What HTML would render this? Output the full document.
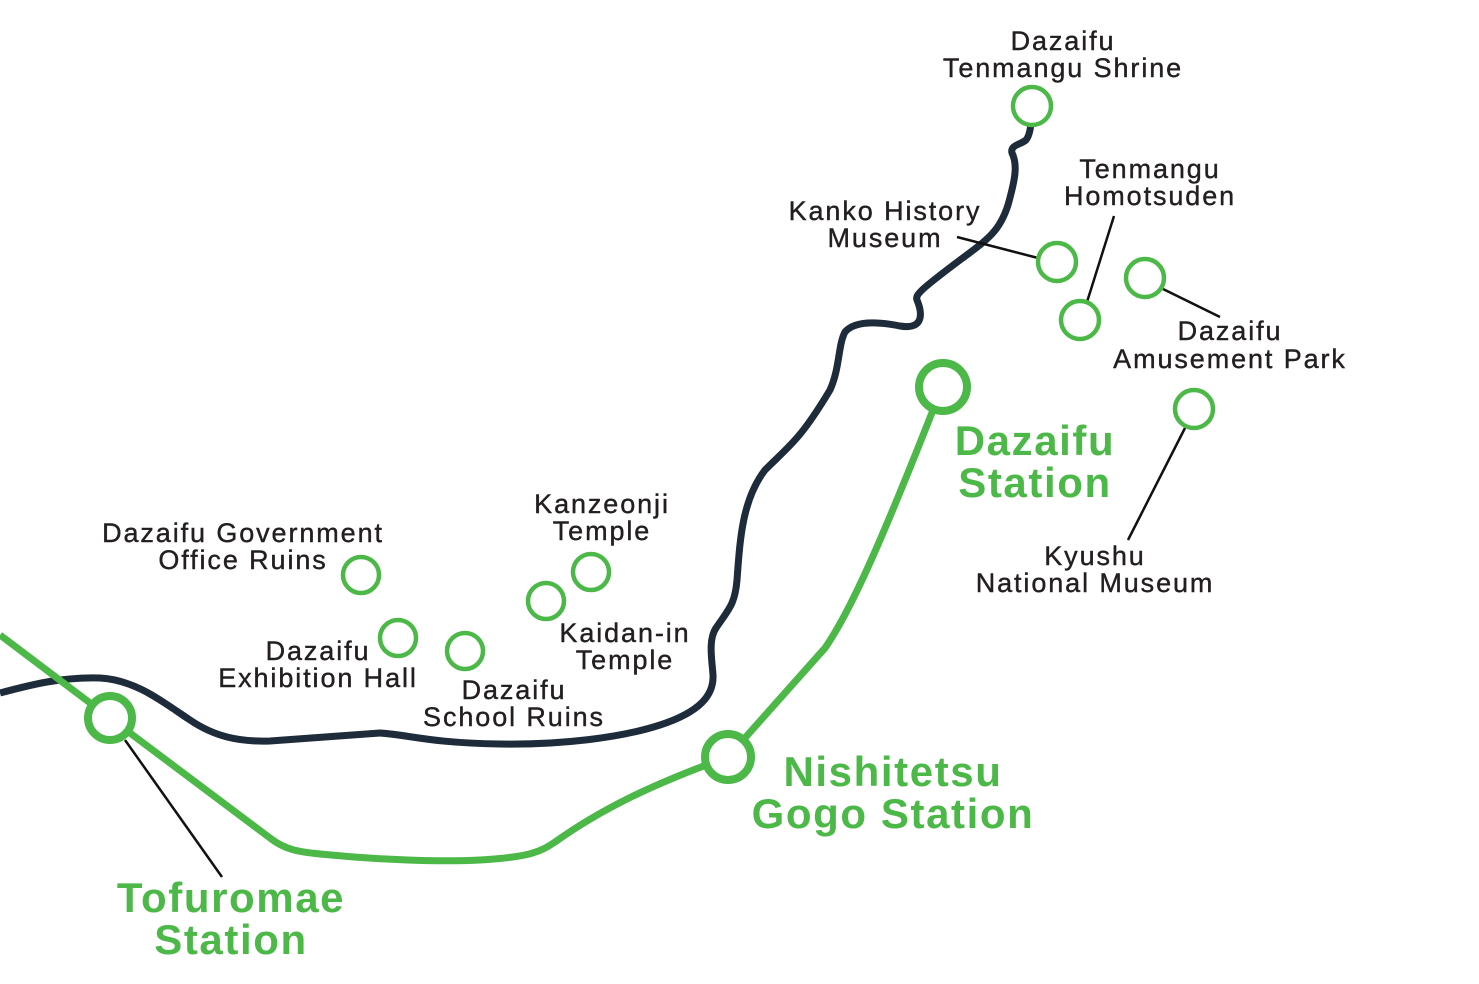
<!DOCTYPE html>
<html><head><meta charset="utf-8"><style>
html,body{margin:0;padding:0;background:#fff;}
svg{display:block}
text{font-family:"Liberation Sans",sans-serif;}
.l{font-size:27px;font-weight:500;fill:#231f20;text-anchor:middle;letter-spacing:1.9px;stroke:#231f20;stroke-width:0.4px}
.s{font-size:42px;font-weight:bold;fill:#4cb848;text-anchor:middle;letter-spacing:1.6px}
</style></head><body>
<svg width="1479" height="984" viewBox="0 0 1479 984">
<path d="M0,693 C30,685 60,677 100,678 C135,680 160,700 190,720 C215,737 240,742 270,741 L380,733 C410,735 430,743 500,744 C560,745 620,738 660,725 C700,712 714,695 713,675 C712,660 708,640 716,628 C728,610 735,605 737,580 C740,540 742,500 765,470 C790,445 800,440 830,390 C840,368 838,345 845,332 C855,320 880,322 900,326 C925,330 922,312 917,300 C915,295 920,290 960,260 C990,238 1000,230 1008,205 C1015,180 1018,165 1012,153 C1010,145 1020,145 1026,140 C1030,135 1031,125 1031,120" fill="none" stroke="#1d2b3a" stroke-width="7" stroke-linejoin="round"/>
<path d="M0,635 L110,718 L270,838 C285,850 300,852 320,854 C380,860 440,862 480,860 C530,857 540,852 555,842 C600,810 650,785 728,757 L825,648 C850,612 880,545 935,405" fill="none" stroke="#4cb848" stroke-width="7" stroke-linejoin="round"/>
<g stroke="#111" stroke-width="2.5">
<line x1="125" y1="740" x2="222" y2="877"/>
<line x1="957" y1="237" x2="1038" y2="258"/>
<line x1="1114" y1="216" x2="1087" y2="302"/>
<line x1="1163" y1="289" x2="1220" y2="317"/>
<line x1="1185" y1="428" x2="1128" y2="540"/>
</g>
<g fill="#fff" stroke="#4cb848" stroke-width="8">
<circle cx="110" cy="718" r="22"/>
<circle cx="728" cy="757" r="23"/>
<circle cx="943" cy="387" r="24"/>
</g>
<g fill="#fff" stroke="#4cb848" stroke-width="4.5">
<circle cx="1032" cy="106" r="19"/>
<circle cx="1057" cy="262" r="19"/>
<circle cx="1080" cy="320" r="19"/>
<circle cx="1145" cy="278" r="19"/>
<circle cx="1194" cy="409" r="19"/>
<circle cx="361" cy="575" r="18"/>
<circle cx="398" cy="638" r="18"/>
<circle cx="465" cy="651" r="18"/>
<circle cx="546" cy="601" r="18"/>
<circle cx="591" cy="572" r="18"/>
</g>
<text class="l" x="1063" y="50">Dazaifu</text>
<text class="l" x="1063" y="77">Tenmangu Shrine</text>
<text class="l" x="1150" y="178">Tenmangu</text>
<text class="l" x="1150" y="205">Homotsuden</text>
<text class="l" x="885" y="220">Kanko History</text>
<text class="l" x="885" y="247">Museum</text>
<text class="l" x="1230" y="340">Dazaifu</text>
<text class="l" x="1230" y="368">Amusement Park</text>
<text class="l" x="1095" y="565">Kyushu</text>
<text class="l" x="1095" y="592">National Museum</text>
<text class="l" x="602" y="513">Kanzeonji</text>
<text class="l" x="602" y="540">Temple</text>
<text class="l" x="625" y="642">Kaidan-in</text>
<text class="l" x="625" y="669">Temple</text>
<text class="l" x="243" y="542">Dazaifu Government</text>
<text class="l" x="243" y="569">Office Ruins</text>
<text class="l" x="318" y="660">Dazaifu</text>
<text class="l" x="318" y="687">Exhibition Hall</text>
<text class="l" x="514" y="699">Dazaifu</text>
<text class="l" x="514" y="726">School Ruins</text>
<text class="s" x="1035" y="455">Dazaifu</text>
<text class="s" x="1035" y="497">Station</text>
<text class="s" x="893" y="786">Nishitetsu</text>
<text class="s" x="893" y="828">Gogo Station</text>
<text class="s" x="231" y="912">Tofuromae</text>
<text class="s" x="231" y="954">Station</text>
</svg>
</body></html>
